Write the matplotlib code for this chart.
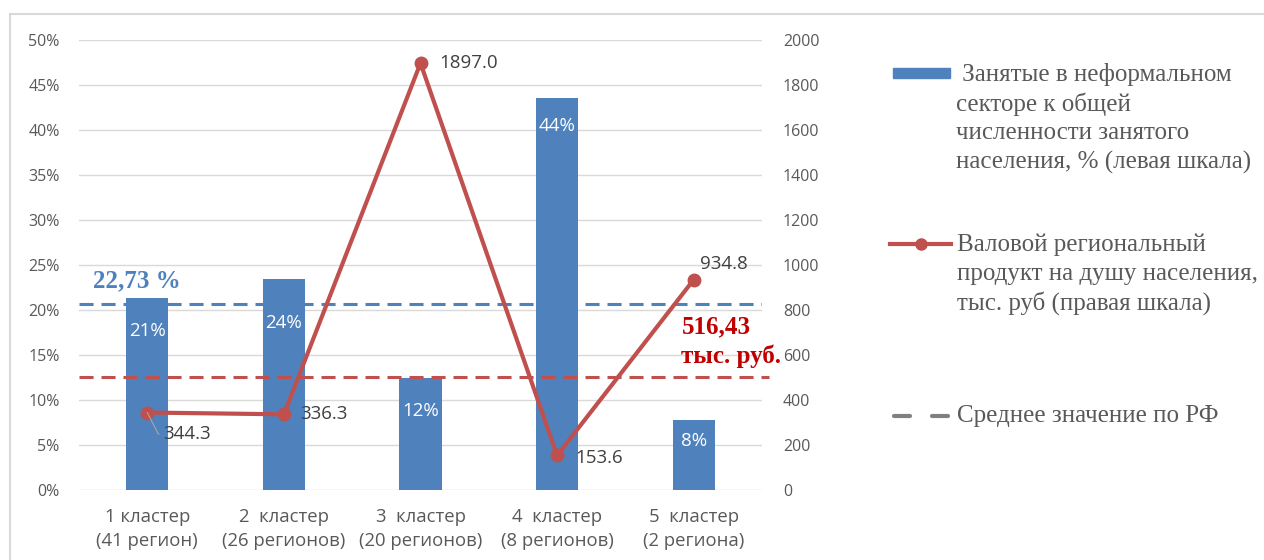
import matplotlib
matplotlib.use("Agg")
import matplotlib.pyplot as plt
from matplotlib.patches import Rectangle
from matplotlib.lines import Line2D

# ---- data ----
categories = ["1 кластер\n(41 регион)", "2  кластер\n(26 регионов)", "3  кластер\n(20 регионов)",
              "4  кластер\n(8 регионов)", "5  кластер\n(2 региона)"]
informal_share = [21.3, 23.5, 12.4, 43.6, 7.8]          # %, left axis
informal_labels = ["21%", "24%", "12%", "44%", "8%"]
grp_per_capita = [344.3, 336.3, 1897.0, 153.6, 934.8]  # тыс. руб, right axis
grp_labels = ["344.3", "336.3", "1897.0", "153.6", "934.8"]
avg_share_line = 20.7        # level of blue dashed line (left axis)
avg_grp_line = 503           # level of red dashed line (right axis)
avg_share_text = "22,73 %"
avg_grp_text = "516,43\nтыс. руб."
left_ticks = [0, 5, 10, 15, 20, 25, 30, 35, 40, 45, 50]
right_ticks = [0, 200, 400, 600, 800, 1000, 1200, 1400, 1600, 1800, 2000]
legend_bar = " Занятые в неформальном\nсекторе к общей\nчисленности занятого\nнаселения, % (левая шкала)"
legend_line = "Валовой региональный\nпродукт на душу населения,\nтыс. руб (правая шкала)"
legend_avg = "Среднее значение по РФ"

# ---- style ----
W, H = 1264, 560
BLUE = "#4f81bd"
RED = "#c0504d"
DARKRED = "#c00000"
TICK = "#595959"
LBL = "#404040"
SERIF = ["Liberation Serif", "DejaVu Serif"]
SANS = ["Open Sans", "DejaVu Sans"]

fig = plt.figure(figsize=(W / 100, H / 100), dpi=100)
fig.patch.set_facecolor("white")

def fx(px):
    return px / W

def fy(py):
    return 1 - py / H

ax = fig.add_axes([fx(79), fy(490), fx(762) - fx(79), fy(40) - fy(490)])
ax2 = ax.twinx()
ax.set_zorder(1)
ax2.set_zorder(2)
ax.patch.set_visible(False)

x = list(range(len(categories)))
ax.bar(x, informal_share, width=0.31, color=BLUE, zorder=2)
ax.set_xlim(-0.5, 4.5)
ax.set_ylim(0, 50)
ax.set_yticks(left_ticks)
ax.set_yticklabels([f"{t}%" for t in left_ticks])
ax.grid(axis="y", color="#d9d9d9", linewidth=1.0, zorder=0)
ax.set_axisbelow(True)
for s in ax.spines.values():
    s.set_visible(False)
for s in ax2.spines.values():
    s.set_visible(False)
ax.tick_params(axis="y", length=0, pad=14, labelsize=11.5, labelcolor=TICK)
ax.set_xticks(x)
ax.set_xticklabels(categories, fontfamily=SANS, fontsize=13.3, color=TICK, linespacing=1.4)
ax.tick_params(axis="x", length=0, pad=13)
for lab in ax.get_yticklabels():
    lab.set_fontfamily(SANS)

# bar labels
bar_label_off_px = [33, 44, 33, 28, 21]
for xi, v, t, off in zip(x, informal_share, informal_labels, bar_label_off_px):
    ax.annotate(t, (xi, v), xytext=(0, -off * 0.72), textcoords="offset points",
                ha="center", va="center", color="white", fontsize=13.5, fontfamily=SANS, zorder=3)

# average share dashed line
ax.axhline(avg_share_line, color=BLUE, linestyle=(0, (4.6, 2.6)), linewidth=2.2, zorder=3)
ax.text(-0.40, 23.2, avg_share_text, color=BLUE, fontsize=18, fontweight="bold",
        fontfamily=SERIF, ha="left", va="center", zorder=4)

# right axis: line
ax2.set_ylim(0, 2000)
ax2.set_yticks(right_ticks)
ax2.tick_params(axis="y", length=0, pad=15, labelsize=11.5, labelcolor=TICK)
for lab in ax2.get_yticklabels():
    lab.set_fontfamily(SANS)
ax2.plot(x, grp_per_capita, color=RED, linewidth=3.0, marker="o", markersize=9, zorder=5)
ax2.axhline(avg_grp_line, xmin=0, xmax=1.01, color=RED, linestyle=(0, (4.6, 2.6)),
            linewidth=2.2, zorder=3, clip_on=False)
ax2.text(3.91, 660, avg_grp_text, color=DARKRED, fontsize=18, fontweight="bold",
         fontfamily=SERIF, ha="left", va="center", linespacing=1.3, zorder=6)

# line data labels (offsets in points)
grp_label_offsets = [(11.5, -15.5), (11.5, 0), (13.5, 0), (13, -1.5), (4.3, 11)]
for i, (xi, v, t, off) in enumerate(zip(x, grp_per_capita, grp_labels, grp_label_offsets)):
    kw = {}
    if i == 0:
        kw["arrowprops"] = dict(arrowstyle="-", color="#a6a6a6", lw=0.8,
                                connectionstyle="angle,angleA=0,angleB=-63,rad=0",
                                relpos=(0, 0.5), shrinkA=1, shrinkB=0)
    ax2.annotate(t, (xi, v), xytext=off, textcoords="offset points", ha="left", va="center",
                 color=LBL, fontsize=13.5, fontfamily=SANS, zorder=6, **kw)

# ---- legend (manual) ----
fig.add_artist(Rectangle((fx(893), fy(78)), fx(950) - fx(893), fy(68) - fy(78),
                         transform=fig.transFigure, color=BLUE))
fig.add_artist(Line2D([fx(890), fx(951)], [fy(244), fy(244)], transform=fig.transFigure,
                      color=RED, linewidth=3))
fig.add_artist(Line2D([fx(921)], [fy(244)], transform=fig.transFigure, color=RED,
                      marker="o", markersize=8, linestyle="none"))
for a, b in [(894, 910), (932, 948)]:
    fig.add_artist(Line2D([fx(a), fx(b)], [fy(416), fy(416)], transform=fig.transFigure,
                          color="#808080", linewidth=3, solid_capstyle="round"))

def legend_text(s, xpx, y0px):
    for k, line in enumerate(s.split("\n")):
        fig.text(fx(xpx), fy(y0px + 29 * k), line, fontsize=18, fontfamily=SERIF,
                 color=TICK, ha="left", va="center")

legend_text(legend_bar, 956, 75)
legend_text(legend_line, 957, 245)
legend_text(legend_avg, 957, 416)

# frame lines
fig.add_artist(Line2D([fx(10), fx(10)], [fy(14), 0], transform=fig.transFigure,
                      color="#d9d9d9", linewidth=1.5))
fig.add_artist(Line2D([fx(10), 1], [fy(14), fy(14)], transform=fig.transFigure,
                      color="#d9d9d9", linewidth=1.5))

fig.savefig("out.png", dpi=100)
